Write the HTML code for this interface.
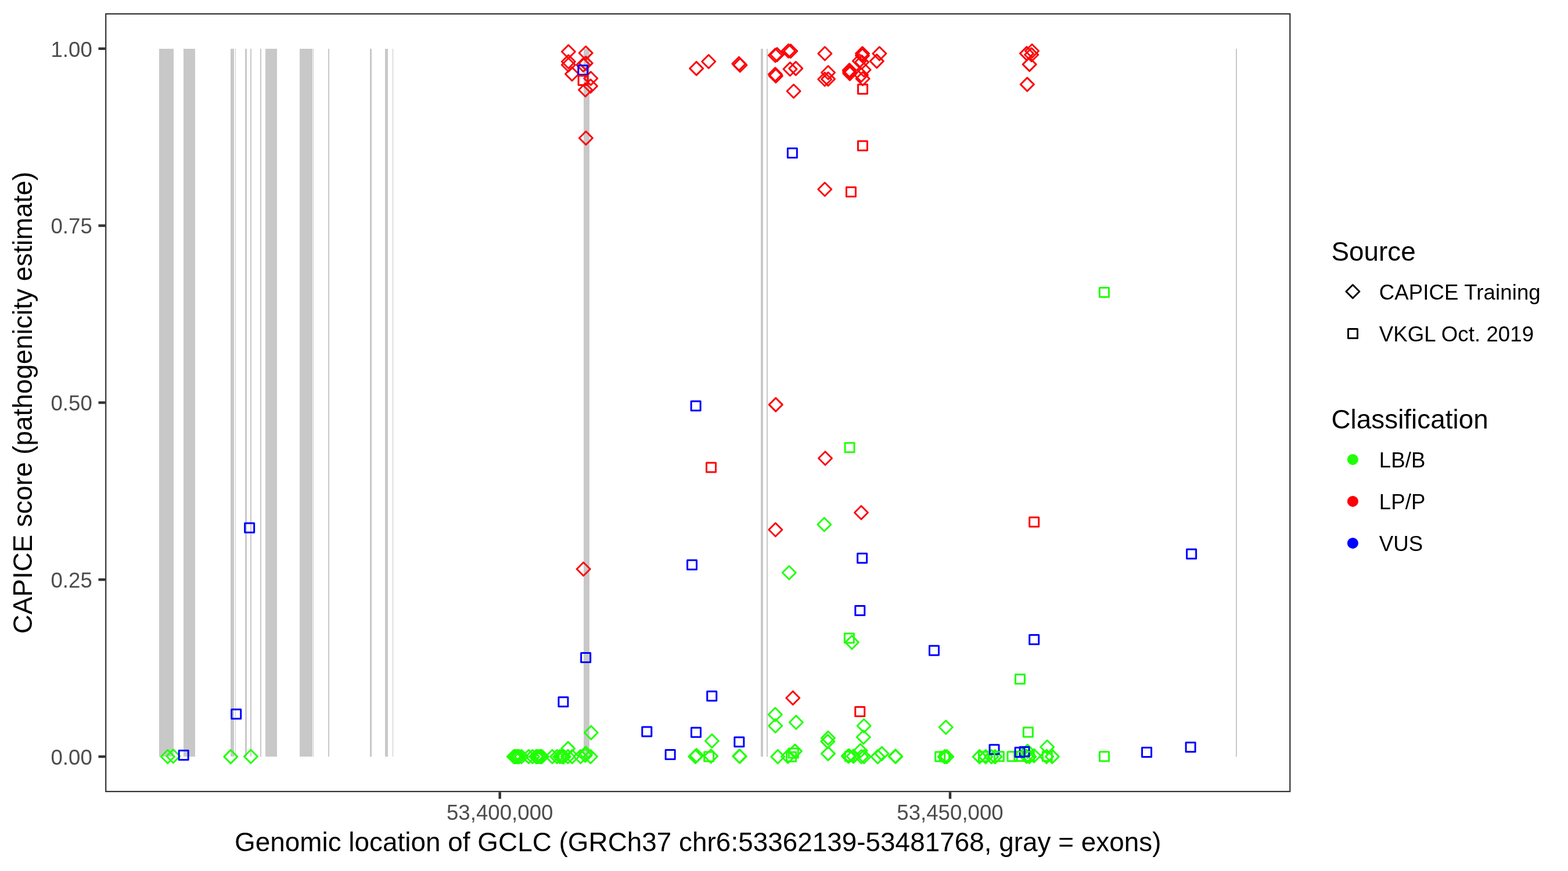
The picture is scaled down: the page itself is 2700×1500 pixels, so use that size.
<!DOCTYPE html>
<html lang="en"><head><meta charset="utf-8">
<title>CAPICE score across GCLC</title>
<style>
html,body{margin:0;padding:0;background:#fff;}
body{width:2700px;height:1500px;overflow:hidden;}
svg{display:block;}
text{font-family:"Liberation Sans",Arial,Helvetica,sans-serif;}
.ax{font-size:36.67px;fill:#4d4d4d;}
.tt{font-size:45.83px;fill:#000;letter-spacing:0.03px;}
.lg{font-size:36.67px;fill:#000;letter-spacing:0.07px;}
.pt{fill:none;stroke-width:2.95;stroke-linejoin:round;}
.q{stroke-width:3;}
.g{stroke:#21ff06;}.r{stroke:#fb0207;}.b{stroke:#0000ff;}
</style></head><body>
<svg xmlns="http://www.w3.org/2000/svg" width="2700" height="1500" viewBox="0 0 2700 1500">
<rect x="0" y="0" width="2700" height="1500" fill="#ffffff"/>
<g fill="#c8c8c8">
<rect x="274" y="84" width="25" height="1219"/>
<rect x="316" y="84" width="20" height="1219"/>
<rect x="397" y="84" width="6" height="1219"/>
<rect x="405" y="84" width="1" height="1219"/>
<rect x="422" y="84" width="3" height="1219"/>
<rect x="431" y="84" width="2" height="1219"/>
<rect x="448" y="84" width="2" height="1219"/>
<rect x="457" y="84" width="20" height="1219"/>
<rect x="516" y="84" width="22" height="1219"/>
<rect x="539" y="84" width="1" height="1219"/>
<rect x="565" y="84" width="2" height="1219"/>
<rect x="637" y="84" width="3" height="1219"/>
<rect x="663" y="84" width="5" height="1219"/>
<rect x="676" y="84" width="1" height="1219"/>
<rect x="1005" y="84" width="10" height="1219"/>
<rect x="1310" y="84" width="4" height="1219"/>
<rect x="1320" y="84" width="2" height="1219"/>
<rect x="2128" y="84" width="2" height="1219"/>
</g>
<g class="pt">
<path class="r" d="M967.35 89.00L978.85 77.50L990.35 89.00L978.85 100.50Z"/>
<path class="r" d="M997.19 91.23L1008.69 79.73L1020.19 91.23L1008.69 102.73Z"/>
<path class="r" d="M967.35 106.26L978.85 94.76L990.35 106.26L978.85 117.76Z"/>
<path class="r" d="M967.35 111.78L978.85 100.28L990.35 111.78L978.85 123.28Z"/>
<path class="r" d="M997.19 108.84L1008.69 97.34L1020.19 108.84L1008.69 120.34Z"/>
<path class="r" d="M992.79 111.78L1004.29 100.28L1015.79 111.78L1004.29 123.28Z"/>
<path class="r" d="M973.50 127.50L985.00 116.00L996.50 127.50L985.00 139.00Z"/>
<path class="r" d="M1005.78 135.05L1017.28 123.55L1028.78 135.05L1017.28 146.55Z"/>
<path class="r" d="M1005.43 148.32L1016.93 136.82L1028.43 148.32L1016.93 159.82Z"/>
<path class="r" d="M996.56 154.68L1008.06 143.18L1019.56 154.68L1008.06 166.18Z"/>
<path class="r" d="M1187.69 117.86L1199.19 106.36L1210.69 117.86L1199.19 129.36Z"/>
<path class="r" d="M1208.73 105.98L1220.23 94.48L1231.73 105.98L1220.23 117.48Z"/>
<path class="r" d="M1260.92 109.68L1272.42 98.18L1283.92 109.68L1272.42 121.18Z"/>
<path class="r" d="M1262.81 112.13L1274.31 100.63L1285.81 112.13L1274.31 123.63Z"/>
<path class="r" d="M1323.44 95.29L1334.94 83.79L1346.44 95.29L1334.94 106.79Z"/>
<path class="r" d="M1326.58 94.03L1338.08 82.53L1349.58 94.03L1338.08 105.53Z"/>
<path class="r" d="M1346.15 87.81L1357.65 76.31L1369.15 87.81L1357.65 99.31Z"/>
<path class="r" d="M1349.85 88.02L1361.35 76.52L1372.85 88.02L1361.35 99.52Z"/>
<path class="r" d="M1408.90 92.21L1420.40 80.71L1431.90 92.21L1420.40 103.71Z"/>
<path class="r" d="M1323.44 128.06L1334.94 116.56L1346.44 128.06L1334.94 139.56Z"/>
<path class="r" d="M1324.42 130.71L1335.92 119.21L1347.42 130.71L1335.92 142.21Z"/>
<path class="r" d="M1349.01 119.05L1360.51 107.55L1372.01 119.05L1360.51 130.55Z"/>
<path class="r" d="M1358.80 117.86L1370.30 106.36L1381.80 117.86L1370.30 129.36Z"/>
<path class="r" d="M1355.09 157.06L1366.59 145.56L1378.09 157.06L1366.59 168.56Z"/>
<path class="r" d="M1414.56 124.98L1426.06 113.48L1437.56 124.98L1426.06 136.48Z"/>
<path class="r" d="M1408.69 136.51L1420.19 125.01L1431.69 136.51L1420.19 148.01Z"/>
<path class="r" d="M1414.56 136.09L1426.06 124.59L1437.56 136.09L1426.06 147.59Z"/>
<path class="r" d="M1451.17 121.07L1462.67 109.57L1474.17 121.07L1462.67 132.57Z"/>
<path class="r" d="M1451.52 123.94L1463.02 112.44L1474.52 123.94L1463.02 135.44Z"/>
<path class="r" d="M1451.87 126.80L1463.37 115.30L1474.87 126.80L1463.37 138.30Z"/>
<path class="r" d="M1757.33 145.39L1768.83 133.89L1780.33 145.39L1768.83 156.89Z"/>
<path class="r" d="M1761.17 110.87L1772.67 99.37L1784.17 110.87L1772.67 122.37Z"/>
<path class="r" d="M1765.57 87.74L1777.07 76.24L1788.57 87.74L1777.07 99.24Z"/>
<path class="r" d="M1756.49 92.14L1767.99 80.64L1779.49 92.14L1767.99 103.64Z"/>
<path class="r" d="M1764.66 94.24L1776.16 82.74L1787.66 94.24L1776.16 105.74Z"/>
<path class="r" d="M997.41 237.70L1008.91 226.20L1020.41 237.70L1008.91 249.20Z"/>
<path class="r" d="M1408.77 325.95L1420.27 314.45L1431.77 325.95L1420.27 337.45Z"/>
<path class="r" d="M1324.31 696.88L1335.81 685.38L1347.31 696.88L1335.81 708.38Z"/>
<path class="r" d="M1409.49 789.32L1420.99 777.82L1432.49 789.32L1420.99 800.82Z"/>
<path class="r" d="M1323.82 912.25L1335.32 900.75L1346.82 912.25L1335.32 923.75Z"/>
<path class="g" d="M1347.30 986.25L1358.80 974.75L1370.30 986.25L1358.80 997.75Z"/>
<path class="g" d="M1407.81 903.31L1419.31 891.81L1430.81 903.31L1419.31 914.81Z"/>
<path class="r" d="M1471.47 882.69L1482.97 871.19L1494.47 882.69L1482.97 894.19Z"/>
<path class="r" d="M993.17 979.94L1004.67 968.44L1016.17 979.94L1004.67 991.44Z"/>
<path class="g" d="M1006.24 1261.82L1017.74 1250.32L1029.24 1261.82L1017.74 1273.32Z"/>
<path class="g" d="M1214.40 1276.01L1225.90 1264.51L1237.40 1276.01L1225.90 1287.51Z"/>
<path class="g" d="M1455.47 1106.26L1466.97 1094.76L1478.47 1106.26L1466.97 1117.76Z"/>
<path class="g" d="M1476.09 1250.06L1487.59 1238.56L1499.09 1250.06L1487.59 1261.56Z"/>
<path class="g" d="M1617.30 1252.58L1628.80 1241.08L1640.30 1252.58L1628.80 1264.08Z"/>
<path class="r" d="M1353.80 1201.93L1365.30 1190.43L1376.80 1201.93L1365.30 1213.43Z"/>
<path class="g" d="M1323.34 1230.51L1334.84 1219.01L1346.34 1230.51L1334.84 1242.01Z"/>
<path class="g" d="M1323.76 1249.94L1335.26 1238.44L1346.76 1249.94L1335.26 1261.44Z"/>
<path class="g" d="M1359.32 1243.93L1370.82 1232.43L1382.32 1243.93L1370.82 1255.43Z"/>
<path class="g" d="M1475.25 1269.50L1486.75 1258.00L1498.25 1269.50L1486.75 1281.00Z"/>
<path class="g" d="M277.29 1303.03L288.79 1291.53L300.29 1303.03L288.79 1314.53Z"/>
<path class="g" d="M286.79 1302.19L298.29 1290.69L309.79 1302.19L298.29 1313.69Z"/>
<path class="g" d="M385.74 1303.10L397.24 1291.60L408.74 1303.10L397.24 1314.60Z"/>
<path class="g" d="M420.39 1302.68L431.89 1291.18L443.39 1302.68L431.89 1314.18Z"/>
<path class="g" d="M1187.90 1301.14L1199.40 1289.64L1210.90 1301.14L1199.40 1312.64Z"/>
<path class="g" d="M1185.81 1302.89L1197.31 1291.39L1208.81 1302.89L1197.31 1314.39Z"/>
<path class="g" d="M1212.71 1302.19L1224.21 1290.69L1235.71 1302.19L1224.21 1313.69Z"/>
<path class="g" d="M1261.76 1302.19L1273.26 1290.69L1284.76 1302.19L1273.26 1313.69Z"/>
<path class="g" d="M1262.32 1302.61L1273.82 1291.11L1285.32 1302.61L1273.82 1314.11Z"/>
<path class="g" d="M1327.86 1303.10L1339.36 1291.60L1350.86 1303.10L1339.36 1314.60Z"/>
<path class="g" d="M1357.42 1293.66L1368.92 1282.16L1380.42 1293.66L1368.92 1305.16Z"/>
<path class="g" d="M1345.33 1302.68L1356.83 1291.18L1368.33 1302.68L1356.83 1314.18Z"/>
<path class="g" d="M1414.49 1270.95L1425.99 1259.45L1437.49 1270.95L1425.99 1282.45Z"/>
<path class="g" d="M1413.80 1276.89L1425.30 1265.39L1436.80 1276.89L1425.30 1288.39Z"/>
<path class="g" d="M1414.49 1297.86L1425.99 1286.36L1437.49 1297.86L1425.99 1309.36Z"/>
<path class="g" d="M1470.11 1292.76L1481.61 1281.26L1493.11 1292.76L1481.61 1304.26Z"/>
<path class="g" d="M1499.95 1303.10L1511.45 1291.60L1522.95 1303.10L1511.45 1314.60Z"/>
<path class="g" d="M1506.94 1297.86L1518.44 1286.36L1529.94 1297.86L1518.44 1309.36Z"/>
<path class="g" d="M1530.35 1302.40L1541.85 1290.90L1553.35 1302.40L1541.85 1313.90Z"/>
<path class="g" d="M1530.77 1302.96L1542.27 1291.46L1553.77 1302.96L1542.27 1314.46Z"/>
<path class="g" d="M1615.23 1303.10L1626.73 1291.60L1638.23 1303.10L1626.73 1314.60Z"/>
<path class="g" d="M1618.66 1303.10L1630.16 1291.60L1641.66 1303.10L1630.16 1314.60Z"/>
<path class="g" d="M1675.18 1303.10L1686.68 1291.60L1698.18 1303.10L1686.68 1314.60Z"/>
<path class="g" d="M1685.81 1303.10L1697.31 1291.60L1708.81 1303.10L1697.31 1314.60Z"/>
<path class="g" d="M1695.80 1303.10L1707.30 1291.60L1718.80 1303.10L1707.30 1314.60Z"/>
<path class="g" d="M1701.88 1303.10L1713.38 1291.60L1724.88 1303.10L1713.38 1314.60Z"/>
<path class="g" d="M1757.76 1293.80L1769.26 1282.30L1780.76 1293.80L1769.26 1305.30Z"/>
<path class="g" d="M1768.94 1301.49L1780.44 1289.99L1791.94 1301.49L1780.44 1312.99Z"/>
<path class="g" d="M1791.65 1286.47L1803.15 1274.97L1814.65 1286.47L1803.15 1297.97Z"/>
<path class="g" d="M1800.39 1302.89L1811.89 1291.39L1823.39 1302.89L1811.89 1314.39Z"/>
<path class="g" d="M1790.60 1302.89L1802.10 1291.39L1813.60 1302.89L1802.10 1314.39Z"/>
<path class="g" d="M873.30 1303.05L884.80 1291.55L896.30 1303.05L884.80 1314.55Z"/>
<path class="g" d="M874.80 1303.05L886.30 1291.55L897.80 1303.05L886.30 1314.55Z"/>
<path class="g" d="M876.40 1303.05L887.90 1291.55L899.40 1303.05L887.90 1314.55Z"/>
<path class="g" d="M878.00 1303.05L889.50 1291.55L901.00 1303.05L889.50 1314.55Z"/>
<path class="g" d="M879.50 1303.05L891.00 1291.55L902.50 1303.05L891.00 1314.55Z"/>
<path class="g" d="M881.10 1303.05L892.60 1291.55L904.10 1303.05L892.60 1314.55Z"/>
<path class="g" d="M882.50 1303.05L894.00 1291.55L905.50 1303.05L894.00 1314.55Z"/>
<path class="g" d="M886.50 1303.05L898.00 1291.55L909.50 1303.05L898.00 1314.55Z"/>
<path class="g" d="M898.90 1303.05L910.40 1291.55L921.90 1303.05L910.40 1314.55Z"/>
<path class="g" d="M905.40 1303.05L916.90 1291.55L928.40 1303.05L916.90 1314.55Z"/>
<path class="g" d="M911.70 1303.05L923.20 1291.55L934.70 1303.05L923.20 1314.55Z"/>
<path class="g" d="M912.90 1303.05L924.40 1291.55L935.90 1303.05L924.40 1314.55Z"/>
<path class="g" d="M914.30 1303.05L925.80 1291.55L937.30 1303.05L925.80 1314.55Z"/>
<path class="g" d="M917.30 1303.05L928.80 1291.55L940.30 1303.05L928.80 1314.55Z"/>
<path class="g" d="M918.80 1303.05L930.30 1291.55L941.80 1303.05L930.30 1314.55Z"/>
<path class="g" d="M920.20 1303.05L931.70 1291.55L943.20 1303.05L931.70 1314.55Z"/>
<path class="g" d="M921.60 1303.05L933.10 1291.55L944.60 1303.05L933.10 1314.55Z"/>
<path class="g" d="M939.40 1303.05L950.90 1291.55L962.40 1303.05L950.90 1314.55Z"/>
<path class="g" d="M947.65 1303.05L959.15 1291.55L970.65 1303.05L959.15 1314.55Z"/>
<path class="g" d="M952.60 1303.05L964.10 1291.55L975.60 1303.05L964.10 1314.55Z"/>
<path class="g" d="M956.50 1303.05L968.00 1291.55L979.50 1303.05L968.00 1314.55Z"/>
<path class="g" d="M957.90 1303.05L969.40 1291.55L980.90 1303.05L969.40 1314.55Z"/>
<path class="g" d="M959.30 1303.05L970.80 1291.55L982.30 1303.05L970.80 1314.55Z"/>
<path class="g" d="M966.40 1303.05L977.90 1291.55L989.40 1303.05L977.90 1314.55Z"/>
<path class="g" d="M973.60 1303.05L985.10 1291.55L996.60 1303.05L985.10 1314.55Z"/>
<path class="g" d="M988.10 1303.05L999.60 1291.55L1011.10 1303.05L999.60 1314.55Z"/>
<path class="g" d="M1005.40 1303.05L1016.90 1291.55L1028.40 1303.05L1016.90 1314.55Z"/>
<path class="g" d="M966.65 1289.15L978.15 1277.65L989.65 1289.15L978.15 1300.65Z"/>
<path class="g" d="M997.20 1297.30L1008.70 1285.80L1020.20 1297.30L1008.70 1308.80Z"/>
<path class="g" d="M996.30 1300.70L1007.80 1289.20L1019.30 1300.70L1007.80 1312.20Z"/>
<path class="g" d="M1449.30 1302.10L1460.80 1290.60L1472.30 1302.10L1460.80 1313.60Z"/>
<path class="g" d="M1450.70 1301.80L1462.20 1290.30L1473.70 1301.80L1462.20 1313.30Z"/>
<path class="g" d="M1458.00 1302.50L1469.50 1291.00L1481.00 1302.50L1469.50 1314.00Z"/>
<path class="g" d="M1471.70 1303.00L1483.20 1291.50L1494.70 1303.00L1483.20 1314.50Z"/>
<path class="g" d="M1476.20 1303.00L1487.70 1291.50L1499.20 1303.00L1487.70 1314.50Z"/>
<path class="g" d="M1756.00 1302.50L1767.50 1291.00L1779.00 1302.50L1767.50 1314.00Z"/>
<path class="g" d="M1760.90 1303.00L1772.40 1291.50L1783.90 1303.00L1772.40 1314.50Z"/>
<path class="r" d="M1473.50 92.30L1485.00 80.80L1496.50 92.30L1485.00 103.80Z"/>
<path class="r" d="M1473.50 95.70L1485.00 84.20L1496.50 95.70L1485.00 107.20Z"/>
<path class="r" d="M1468.40 105.00L1479.90 93.50L1491.40 105.00L1479.90 116.50Z"/>
<path class="r" d="M1472.60 107.00L1484.10 95.50L1495.60 107.00L1484.10 118.50Z"/>
<path class="r" d="M1502.90 92.20L1514.40 80.70L1525.90 92.20L1514.40 103.70Z"/>
<path class="r" d="M1498.30 105.40L1509.80 93.90L1521.30 105.40L1509.80 116.90Z"/>
<path class="r" d="M1476.10 120.30L1487.60 108.80L1499.10 120.30L1487.60 131.80Z"/>
<path class="r" d="M1474.10 135.50L1485.60 124.00L1497.10 135.50L1485.60 147.00Z"/>
<path class="r" d="M1471.50 129.20L1483.00 117.70L1494.50 129.20L1483.00 140.70Z"/>
<rect class="b q" x="995.80" y="112.79" width="16" height="16"/>
<rect class="b q" x="1356.37" y="255.49" width="16" height="16"/>
<rect class="b q" x="1190.15" y="691.05" width="16" height="16"/>
<rect class="b q" x="1183.58" y="964.83" width="16" height="16"/>
<rect class="b q" x="1476.64" y="953.37" width="16" height="16"/>
<rect class="b q" x="421.66" y="901.04" width="16" height="16"/>
<rect class="b q" x="398.74" y="1221.63" width="16" height="16"/>
<rect class="b q" x="961.94" y="1200.66" width="16" height="16"/>
<rect class="b q" x="1000.66" y="1124.55" width="16" height="16"/>
<rect class="b q" x="1217.76" y="1190.87" width="16" height="16"/>
<rect class="b q" x="1105.82" y="1252.01" width="16" height="16"/>
<rect class="b q" x="1190.51" y="1253.20" width="16" height="16"/>
<rect class="b q" x="1472.81" y="1043.39" width="16" height="16"/>
<rect class="b q" x="1600.47" y="1112.23" width="16" height="16"/>
<rect class="b q" x="1772.71" y="1093.58" width="16" height="16"/>
<rect class="b q" x="1264.86" y="1269.75" width="16" height="16"/>
<rect class="b q" x="308.18" y="1292.44" width="16" height="16"/>
<rect class="b q" x="1146.16" y="1291.50" width="16" height="16"/>
<rect class="b q" x="1704.05" y="1282.73" width="16" height="16"/>
<rect class="b q" x="1756.02" y="1286.50" width="16" height="16"/>
<rect class="b q" x="1966.58" y="1287.52" width="16" height="16"/>
<rect class="b q" x="2042.11" y="1278.64" width="16" height="16"/>
<rect class="b q" x="2043.63" y="946.12" width="16" height="16"/>
<rect class="r q" x="996.08" y="130.40" width="16" height="16"/>
<rect class="r q" x="1477.40" y="242.91" width="16" height="16"/>
<rect class="r q" x="1457.41" y="322.57" width="16" height="16"/>
<rect class="r q" x="1216.50" y="796.98" width="16" height="16"/>
<rect class="r q" x="1772.71" y="890.99" width="16" height="16"/>
<rect class="r q" x="1472.74" y="1217.54" width="16" height="16"/>
<rect class="r q" x="1477.50" y="145.50" width="16" height="16"/>
<rect class="g q" x="1893.47" y="495.49" width="16" height="16"/>
<rect class="g q" x="1455.05" y="762.81" width="16" height="16"/>
<rect class="g q" x="1454.36" y="1090.99" width="16" height="16"/>
<rect class="g q" x="1748.47" y="1161.57" width="16" height="16"/>
<rect class="g q" x="1762.37" y="1252.96" width="16" height="16"/>
<rect class="g q" x="1212.71" y="1294.89" width="16" height="16"/>
<rect class="g q" x="1358.27" y="1289.02" width="16" height="16"/>
<rect class="g q" x="1354.63" y="1295.24" width="16" height="16"/>
<rect class="g q" x="1610.70" y="1294.89" width="16" height="16"/>
<rect class="g q" x="1618.59" y="1294.89" width="16" height="16"/>
<rect class="g q" x="1685.46" y="1294.89" width="16" height="16"/>
<rect class="g q" x="1712.36" y="1294.75" width="16" height="16"/>
<rect class="g q" x="1735.06" y="1294.75" width="16" height="16"/>
<rect class="g q" x="1746.73" y="1294.61" width="16" height="16"/>
<rect class="g q" x="1795.29" y="1294.54" width="16" height="16"/>
<rect class="g q" x="1893.56" y="1294.85" width="16" height="16"/>
<rect class="g q" x="1455.30" y="1294.60" width="16" height="16"/>
<rect class="g q" x="1764.40" y="1294.55" width="16" height="16"/>
<rect class="b q" x="1748.10" y="1287.40" width="16" height="16"/>
</g>
<rect x="182.2" y="23.9" width="2039.1" height="1339.2" fill="none" stroke="#333333" stroke-width="2.2"/>
<g stroke="#333333" stroke-width="4.45">
<line x1="169.5" x2="181.1" y1="1303.0" y2="1303.0"/>
<line x1="169.5" x2="181.1" y1="998.2" y2="998.2"/>
<line x1="169.5" x2="181.1" y1="693.4" y2="693.4"/>
<line x1="169.5" x2="181.1" y1="388.6" y2="388.6"/>
<line x1="169.5" x2="181.1" y1="83.8" y2="83.8"/>
<line x1="860.7" x2="860.7" y1="1364.2" y2="1375.7"/>
<line x1="1636.0" x2="1636.0" y1="1364.2" y2="1375.7"/>
</g>
<g class="ax" text-anchor="end">
<text x="158.8" y="1316.8">0.00</text>
<text x="158.8" y="1012.0">0.25</text>
<text x="158.8" y="707.2">0.50</text>
<text x="158.8" y="402.4">0.75</text>
<text x="158.8" y="97.6">1.00</text>
</g>
<g class="ax" text-anchor="middle">
<text x="860.7" y="1412.1">53,400,000</text>
<text x="1636.0" y="1412.1">53,450,000</text>
</g>
<text class="tt" text-anchor="middle" x="1201.8" y="1466.3">Genomic location of GCLC (GRCh37 chr6:53362139-53481768, gray = exons)</text>
<text class="tt" text-anchor="middle" transform="translate(55.4 693.5) rotate(-90)">CAPICE score (pathogenicity estimate)</text>
<text class="tt" x="2292.4" y="448.9">Source</text>
<path class="pt" stroke="#000" d="M2317.9 502.0L2329.4 490.5L2340.9 502.0L2329.4 513.5Z"/>
<text class="lg" x="2374.7" y="516.0">CAPICE Training</text>
<rect class="pt q" stroke="#000" x="2321.5" y="566.5" width="16" height="16"/>
<text class="lg" x="2374.7" y="588.0">VKGL Oct. 2019</text>
<text class="tt" x="2292.4" y="738.1">Classification</text>
<circle cx="2329.4" cy="791.4" r="9.5" fill="#21ff06"/>
<text class="lg" x="2374.7" y="804.6">LB/B</text>
<circle cx="2329.4" cy="863.4" r="9.5" fill="#fb0207"/>
<text class="lg" x="2374.7" y="876.6">LP/P</text>
<circle cx="2329.4" cy="935.4" r="9.5" fill="#0000ff"/>
<text class="lg" x="2374.7" y="948.6">VUS</text>
</svg>
</body></html>
